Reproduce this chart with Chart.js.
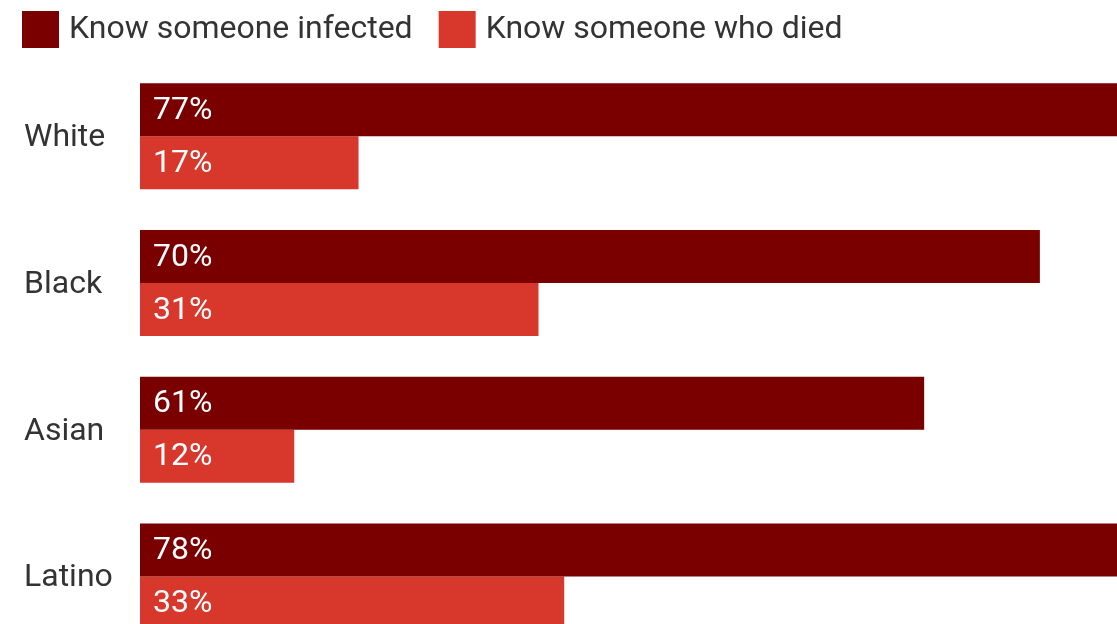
<!DOCTYPE html>
<html>
<head>
<meta charset="utf-8">
<script src="https://cdn.jsdelivr.net/npm/chart.js@4/dist/chart.umd.min.js"></script>
<style>
  html, body { margin: 0; padding: 0; background: #fff; overflow: hidden; }
  canvas { display: block; }
</style>
</head>
<body>
<canvas id="chart" width="1117" height="669"></canvas>
<script>
const categories = ['White', 'Black', 'Asian', 'Latino'];
const knowInfected = [77, 70, 61, 78];
const knowDied = [17, 31, 12, 33];
const seriesNames = ['Know someone infected', 'Know someone who died'];
const seriesColors = ['#7a0000', '#d8372c'];

const FONT = 'Roboto, "Liberation Sans", Arial, sans-serif';
const TEXT = '#333333';

// Legend row drawn along the top edge
const topLegend = {
  id: 'topLegend',
  afterDraw(chart) {
    const ctx = chart.ctx;
    ctx.save();
    ctx.font = '32px ' + FONT;
    ctx.textBaseline = 'middle';
    ctx.textAlign = 'left';
    let x = 22;
    chart.data.datasets.forEach(ds => {
      ctx.fillStyle = ds.backgroundColor;
      ctx.fillRect(x, 11, 37, 37);
      ctx.fillStyle = TEXT;
      ctx.fillText(ds.label, x + 47, 30);
      x += 47 + ctx.measureText(ds.label).width + 26;
    });
    ctx.restore();
  }
};

// Percentage labels placed just inside the start of each bar
const barLabels = {
  id: 'barLabels',
  afterDatasetsDraw(chart) {
    const ctx = chart.ctx;
    ctx.save();
    ctx.font = '32px ' + FONT;
    ctx.fillStyle = '#ffffff';
    ctx.textBaseline = 'middle';
    ctx.textAlign = 'left';
    chart.data.datasets.forEach((ds, i) => {
      chart.getDatasetMeta(i).data.forEach((bar, j) => {
        ctx.fillText(ds.data[j] + '%', bar.base + 13, bar.y + 1);
      });
    });
    ctx.restore();
  }
};

new Chart(document.getElementById('chart'), {
  type: 'bar',
  data: {
    labels: categories,
    datasets: [
      { label: seriesNames[0], data: knowInfected, backgroundColor: seriesColors[0] },
      { label: seriesNames[1], data: knowDied, backgroundColor: seriesColors[1] }
    ]
  },
  options: {
    indexAxis: 'y',
    responsive: false,
    animation: false,
    devicePixelRatio: 1,
    categoryPercentage: 0.7226,
    barPercentage: 1,
    layout: { padding: { top: 63, left: 24, right: 0, bottom: 0 } },
    plugins: {
      legend: { display: false },
      tooltip: { enabled: false }
    },
    scales: {
      x: { display: false, min: 0, max: 76 },
      y: {
        grid: { display: false },
        border: { display: false },
        ticks: {
          crossAlign: 'far',
          padding: 0,
          labelOffset: 2,
          color: TEXT,
          font: { family: FONT, size: 32 }
        },
        afterFit(scale) { scale.width = 116; }
      }
    }
  },
  plugins: [topLegend, barLabels]
});
</script>
</body>
</html>
